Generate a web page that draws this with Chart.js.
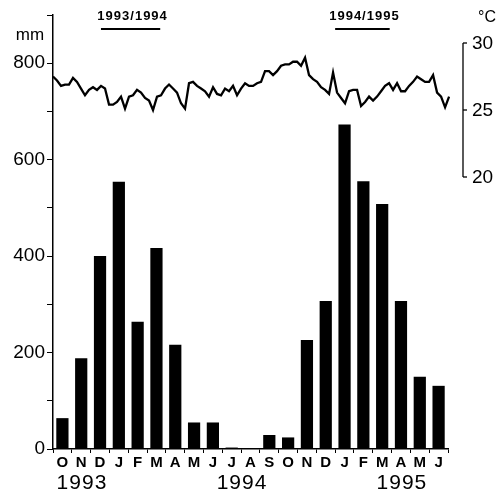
<!DOCTYPE html>
<html>
<head>
<meta charset="utf-8">
<script src="https://cdn.jsdelivr.net/npm/chart.js@4"></script>
<style>
  body { margin: 0; background: #fff; }
  canvas { display: block; }
</style>
</head>
<body>
<canvas id="chart" width="500" height="494"></canvas>
<script>
'use strict';

// monthly rainfall, Oct 1993 - Jun 1995
let months = ['O', 'N', 'D', 'J', 'F', 'M', 'A', 'M', 'J', 'J', 'A', 'S', 'O', 'N', 'D', 'J', 'F', 'M', 'A', 'M', 'J'];
let rainfall = [64, 188, 400, 554, 264, 417, 216, 55, 55, 3, 0, 29, 24, 226, 307, 673, 555, 508, 307, 150, 131];

// temperature, one reading every ~6.5 days starting 1 Oct 1993
let tempStepMonths = 0.2127;
let temperature = [
  27.5, 27.2, 26.8, 26.9, 26.9, 27.4, 27.1, 26.6, 26.1, 26.5,
  26.7, 26.5, 26.8, 26.6, 25.4, 25.4, 25.6, 26.0, 25.1, 26.0,
  26.1, 26.5, 26.3, 25.9, 25.7, 25.0, 26.0, 26.1, 26.6, 26.9,
  26.6, 26.3, 25.5, 25.1, 27.0, 27.1, 26.8, 26.6, 26.4, 26.0,
  26.7, 26.2, 26.1, 26.6, 26.4, 26.8, 26.1, 26.6, 27.0, 26.8,
  26.8, 27.0, 27.1, 27.9, 27.9, 27.6, 27.9, 28.3, 28.4, 28.4,
  28.6, 28.6, 28.3, 28.9, 27.6, 27.3, 27.1, 26.7, 26.5, 26.2,
  27.8, 26.3, 25.9, 25.5, 26.4, 26.5, 26.5, 25.3, 25.6, 26.0,
  25.7, 26.0, 26.4, 26.8, 27.0, 26.5, 27.0, 26.4, 26.4, 26.8,
  27.1, 27.5, 27.3, 27.1, 27.1, 27.6, 26.3, 26.0, 25.2, 26.0,
  25.9, 26.1
];

let mmTicks = [0, 200, 400, 600, 800];
let tempTicks = [20, 25, 30];

let yearLabels = ['1993', '1994', '1995'];
let yearAt = [1.54, 10.05, 18.55]; // in months from Oct 1993

let seasonLabels = ['1993/1994', '1994/1995'];
let seasonFrom = [2.55, 15.0];
let seasonTo = [5.7, 17.9];

let fontName = '"Liberation Sans", Arial, sans-serif';

let tempPoints = [];
for (let i = 0; i < temperature.length; i++) {
  tempPoints.push({ x: i * tempStepMonths, y: temperature[i] });
}

let extrasPlugin = {
  id: 'extras',
  afterDraw(chart) {
    let ctx = chart.ctx;
    let area = chart.chartArea;
    let xT = chart.scales.xT;
    let yT = chart.scales.yT;
    ctx.save();
    ctx.fillStyle = '#000';
    ctx.strokeStyle = '#000';

    // units
    ctx.font = '17px ' + fontName;
    ctx.textAlign = 'center';
    ctx.textBaseline = 'middle';
    ctx.fillText('mm', 30, 35);
    ctx.font = '16px ' + fontName;
    ctx.fillText('°C', 487, 18);

    // temperature axis on the right
    let axisX = area.right + 15;
    ctx.lineWidth = 1.3;
    ctx.beginPath();
    ctx.moveTo(axisX, yT.getPixelForValue(tempTicks[tempTicks.length - 1]));
    ctx.lineTo(axisX, yT.getPixelForValue(tempTicks[0]));
    ctx.stroke();
    ctx.font = '19px ' + fontName;
    ctx.textAlign = 'left';
    for (let i = 0; i < tempTicks.length; i++) {
      let py = yT.getPixelForValue(tempTicks[i]);
      ctx.beginPath();
      ctx.moveTo(axisX, py);
      ctx.lineTo(axisX + 4, py);
      ctx.stroke();
      ctx.fillText(String(tempTicks[i]), axisX + 9, py + 1);
    }

    // season markers
    ctx.font = 'bold 13px ' + fontName;
    ctx.letterSpacing = '1px';
    ctx.textAlign = 'center';
    ctx.lineWidth = 2;
    for (let i = 0; i < seasonLabels.length; i++) {
      let x1 = xT.getPixelForValue(seasonFrom[i]);
      let x2 = xT.getPixelForValue(seasonTo[i]);
      ctx.fillText(seasonLabels[i], (x1 + x2) / 2 + 2, 16);
      ctx.beginPath();
      ctx.moveTo(x1, 29);
      ctx.lineTo(x2, 29);
      ctx.stroke();
    }

    // years under the month letters
    ctx.font = '21px ' + fontName;
    for (let i = 0; i < yearLabels.length; i++) {
      ctx.fillText(yearLabels[i], xT.getPixelForValue(yearAt[i]), 483);
    }
    ctx.restore();
  }
};

let ctx = document.getElementById('chart').getContext('2d');
let chart = new Chart(ctx, { //eslint-disable-line
  type: 'bar',
  data: {
    labels: months,
    datasets: [{
      type: 'line',
      data: tempPoints,
      xAxisID: 'xT',
      yAxisID: 'yT',
      borderColor: '#000',
      borderWidth: 2.3,
      pointRadius: 0,
      tension: 0,
      clip: false
    },
    {
      data: rainfall,
      xAxisID: 'x',
      yAxisID: 'y',
      backgroundColor: '#000',
      borderWidth: 0,
      grouped: false,
      categoryPercentage: 1,
      barPercentage: 0.65
    }]
  },
  options: {
    responsive: false,
    animation: false,
    layout: { padding: { top: 15, right: 52, left: 0, bottom: 0 } },
    plugins: { legend: { display: false }, tooltip: { enabled: false } },
    scales: {
      x: {
        offset: true,
        grid: { drawOnChartArea: false, tickLength: 4, color: '#000', offset: true },
        border: { color: '#000', width: 1.5 },
        ticks: {
          color: '#000',
          font: { family: fontName, size: 15, weight: 'bold' },
          padding: 1,
          autoSkip: false,
          maxRotation: 0
        },
        afterFit(scale) { scale.height = 45; }
      },
      y: {
        min: 0,
        max: 900,
        grid: { drawOnChartArea: false, tickLength: 6, color: '#000' },
        border: { color: '#000', width: 1.5 },
        ticks: {
          stepSize: 100,
          color: '#000',
          font: { family: fontName, size: 19 },
          padding: 2,
          callback: (v) => mmTicks.includes(v) ? String(v) : ''
        },
        afterFit(scale) { scale.width = 53; }
      },
      xT: { type: 'linear', display: false, offset: false, grid: { offset: false }, min: 0, max: months.length },
      yT: { type: 'linear', display: false, min: -0.3, max: 32.09 }
    }
  },
  plugins: [extrasPlugin]
});
</script>
</body>
</html>
